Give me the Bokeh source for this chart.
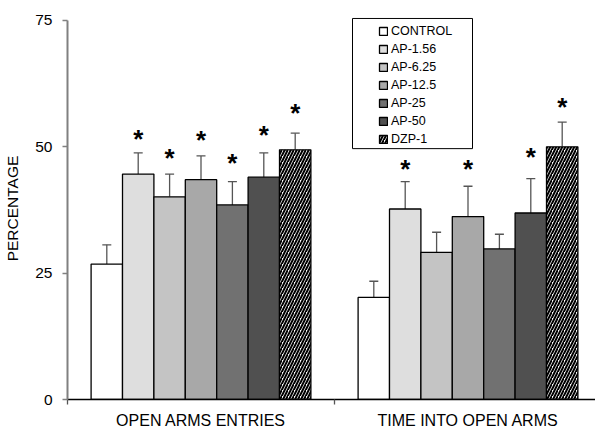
from bokeh.plotting import figure
from bokeh.models import (ColumnDataSource, Range1d, FixedTicker, Legend, LegendItem,
                          Whisker, TeeHead, BoxAnnotation)
from bokeh.core.properties import value
from bokeh.embed import file_html
from bokeh.resources import INLINE

# ---- data ----
groups = ["OPEN ARMS ENTRIES", "TIME INTO OPEN ARMS"]
treatments = ["CONTROL", "AP-1.56", "AP-6.25", "AP-12.5", "AP-25", "AP-50", "DZP-1"]
entries_mean = [26.8, 44.6, 40.1, 43.5, 38.5, 44.0, 49.4]
entries_sem = [3.8, 4.2, 4.5, 4.7, 4.6, 4.8, 3.3]
time_mean = [20.2, 37.7, 29.1, 36.2, 29.8, 36.9, 50.0]
time_sem = [3.2, 5.4, 4.0, 6.0, 2.9, 6.8, 4.9]
entries_star = [None, 52.4, 48.6, 52.2, 47.5, 53.1, 57.5]
time_star = [None, 46.5, None, 46.5, None, 48.8, 58.7]
y_ticks = [0, 25, 50, 75]

# ---- styles ----
FONT = "Liberation Sans"
fills = ["#ffffff", "#dedede", "#c4c4c4", "#a8a8a8", "#717171", "#505050", "#ffffff"]
hatches = [None, None, None, None, None, None, "/"]
bw = 0.1176

W, H = 595, 431
LEFT, TOP, BOTTOM = 67, 17, 31
XPX = 267.0
p = figure(width=W, height=H, x_range=Range1d(0, (W - LEFT) / XPX), y_range=Range1d(0, 75.59),
           output_backend="svg", toolbar_location=None,
           min_border_left=LEFT, min_border_right=0, min_border_top=TOP, min_border_bottom=BOTTOM)
p.outline_line_color = None
p.xgrid.visible = False
p.ygrid.visible = False
p.background_fill_color = "white"
p.border_fill_color = "white"

renderers = []
whisk_x, whisk_lo, whisk_hi = [], [], []
star_x, star_y = [], []
for i, t in enumerate(treatments):
    xs = [g + 0.5 + (i - 3) * bw for g in range(len(groups))]
    tops = [entries_mean[i], time_mean[i]]
    src = ColumnDataSource(dict(x=xs, top=tops))
    kw = {}
    if hatches[i]:
        kw = dict(hatch_pattern=hatches[i], hatch_color="black", hatch_scale=6, hatch_weight=2)
    r = p.vbar(x="x", top="top", width=bw, bottom=0, source=src,
               fill_color=fills[i], line_color="black", line_width=1.3, **kw)
    renderers.append(r)
    for g, (m, s) in enumerate([(entries_mean[i], entries_sem[i]), (time_mean[i], time_sem[i])]):
        whisk_x.append(xs[g])
        whisk_lo.append(m)
        whisk_hi.append(m + s)
    for g, st in enumerate([entries_star[i], time_star[i]]):
        if st is not None:
            star_x.append(xs[g])
            star_y.append(st)

wsrc = ColumnDataSource(dict(x=whisk_x, lo=whisk_lo, hi=whisk_hi))
w = Whisker(source=wsrc, base="x", lower="lo", upper="hi", dimension="height",
            line_color="#555555", line_width=1.3,
            upper_head=TeeHead(size=9, line_color="#555555", line_width=1.3),
            lower_head=None)
p.add_layout(w)

ssrc = ColumnDataSource(dict(x=star_x, y=star_y, t=["*"] * len(star_x)))
p.text(x="x", y="y", text="t", source=ssrc, text_align="center", text_baseline="middle",
       text_font=value(FONT), text_font_style="bold", text_font_size="26px",
       text_color="black", y_offset=4)

# y axis
ya = p.yaxis[0]
ya.ticker = FixedTicker(ticks=y_ticks)
ya.bounds = (0, 75)
ya.axis_label = "PERCENTAGE"
ya.axis_label_text_font = FONT
ya.axis_label_text_font_style = "normal"
ya.axis_label_text_font_size = "15.5px"
ya.axis_label_text_color = "black"
ya.axis_label_standoff = 11
ya.major_label_text_font = FONT
ya.major_label_text_font_size = "15.5px"
ya.major_label_text_color = "black"
ya.major_label_standoff = 10
ya.axis_line_color = "#808080"
ya.axis_line_width = 2
ya.major_tick_line_color = "#808080"
ya.major_tick_line_width = 1.5
ya.major_tick_out = 5
ya.major_tick_in = 0
ya.minor_tick_line_color = None

# x axis
xa = p.xaxis[0]
xa.ticker = FixedTicker(ticks=[0.5, 1.5], minor_ticks=[0, 1])
xa.major_label_overrides = {0.5: groups[0], 1.5: groups[1]}
xa.major_label_text_font = FONT
xa.major_label_text_font_size = "16px"
xa.major_label_text_color = "black"
xa.major_label_standoff = 7
xa.axis_line_color = "black"
xa.axis_line_width = 1.5
xa.major_tick_out = 0
xa.major_tick_in = 0
xa.minor_tick_out = 5
xa.minor_tick_in = 0
xa.minor_tick_line_color = "#555555"
xa.minor_tick_line_width = 1.3

# legend frame
frame = BoxAnnotation(left=(352 - LEFT) / XPX, right=(472 - LEFT) / XPX, bottom=49.64, top=75.4,
                      fill_color="white", fill_alpha=1.0, line_color="black", line_width=1,
                      line_alpha=1.0)
p.add_layout(frame)

legend = Legend(items=[LegendItem(label=t, renderers=[r]) for t, r in zip(treatments, renderers)],
                location=(311, 253), padding=0, margin=0, spacing=3,
                glyph_width=10, glyph_height=10, label_height=15, label_standoff=3,
                label_text_font=FONT, label_text_font_size="12.5px", label_text_color="black",
                border_line_color=None, background_fill_alpha=0)
p.add_layout(legend)

open("out.html", "w").write(file_html(p, INLINE))
